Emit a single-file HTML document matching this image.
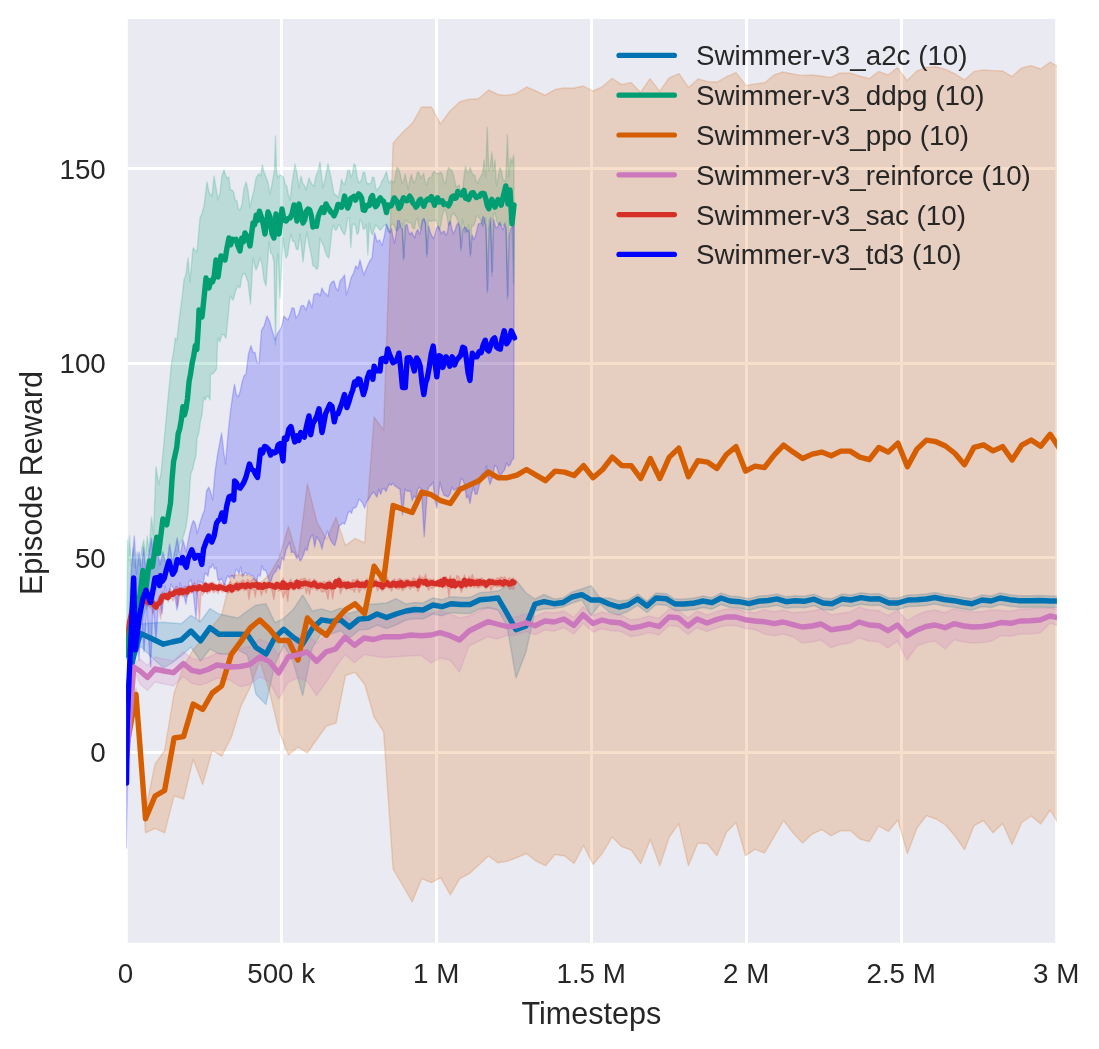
<!DOCTYPE html>
<html lang="en"><head><meta charset="utf-8"><title>Swimmer-v3 Episode Reward</title>
<style>html,body{margin:0;padding:0;background:#fff}body{width:1099px;height:1049px;overflow:hidden}</style></head>
<body>
<svg width="1099" height="1049" viewBox="0 0 1099 1049" style="display:block">
<defs><clipPath id="c"><rect x="126.1" y="17.3" width="930.8" height="927.2"/></clipPath></defs>
<rect x="0" y="0" width="1099" height="1049" fill="#ffffff"/>
<rect x="127.8" y="19.0" width="927.4" height="923.8" fill="#EAEAF2"/>
<g stroke="#ffffff" stroke-width="3">
<line x1="281.5" y1="19.0" x2="281.5" y2="942.8"/>
<line x1="436.5" y1="19.0" x2="436.5" y2="942.8"/>
<line x1="591.5" y1="19.0" x2="591.5" y2="942.8"/>
<line x1="746.5" y1="19.0" x2="746.5" y2="942.8"/>
<line x1="901.5" y1="19.0" x2="901.5" y2="942.8"/>
<line x1="127.8" y1="752.5" x2="1055.2" y2="752.5"/>
<line x1="127.8" y1="557.5" x2="1055.2" y2="557.5"/>
<line x1="127.8" y1="363.5" x2="1055.2" y2="363.5"/>
<line x1="127.8" y1="168.5" x2="1055.2" y2="168.5"/>
</g>
<g clip-path="url(#c)">
<path d="M126.5 697.0 L131.0 665.0 L134.0 652.0 L140.4 624.0 L151.5 623.0 L163.4 622.3 L172.0 623.0 L181.3 623.8 L190.9 615.4 L200.5 621.5 L210.0 608.5 L219.0 614.0 L228.5 616.0 L238.0 618.0 L247.3 611.0 L256.0 605.2 L266.0 603.8 L275.0 622.7 L283.8 618.3 L293.2 609.6 L302.7 595.0 L312.2 611.0 L321.7 608.9 L331.2 611.8 L340.6 608.1 L349.4 613.5 L358.9 610.3 L368.4 604.5 L377.1 603.8 L386.6 603.0 L396.0 598.7 L406.0 604.0 L415.0 602.5 L423.0 603.0 L433.0 598.0 L442.0 599.7 L451.0 596.7 L461.0 597.5 L470.0 597.5 L480.0 592.7 L489.0 592.0 L498.0 591.0 L507.0 586.0 L516.0 580.0 L526.0 593.0 L535.0 599.0 L544.0 594.5 L554.0 599.0 L563.0 598.0 L572.0 592.0 L581.8 589.0 L591.0 585.6 L600.0 598.0 L609.0 598.0 L619.0 601.0 L628.0 600.0 L637.6 594.0 L647.0 601.0 L656.0 593.0 L666.0 593.7 L675.0 599.0 L684.0 599.0 L693.0 598.3 L703.0 596.0 L712.0 597.7 L721.0 593.0 L730.0 596.0 L739.0 596.7 L749.0 598.7 L758.0 596.3 L768.0 595.5 L777.0 593.9 L786.0 596.7 L795.0 595.7 L804.0 596.3 L814.0 594.2 L823.0 598.0 L832.0 598.7 L842.0 594.0 L851.0 595.0 L861.0 592.7 L870.0 594.0 L879.0 593.7 L889.0 598.0 L898.0 598.0 L908.0 595.0 L917.0 594.7 L926.0 594.0 L935.0 592.5 L944.0 594.5 L954.0 595.7 L963.0 597.5 L972.0 598.7 L982.0 595.0 L991.0 596.0 L1000.0 593.0 L1010.0 594.7 L1019.0 595.7 L1030.0 595.7 L1040.0 595.5 L1050.0 596.0 L1059.0 596.0 L1059.0 607.5 L1050.0 607.5 L1040.0 607.0 L1030.0 607.2 L1019.0 607.2 L1010.0 606.2 L1000.0 604.5 L991.0 607.5 L982.0 606.5 L972.0 610.2 L963.0 609.0 L954.0 607.2 L944.0 606.0 L935.0 604.0 L926.0 605.5 L917.0 606.2 L908.0 606.5 L898.0 609.5 L889.0 609.5 L879.0 605.2 L870.0 605.5 L861.0 604.2 L851.0 606.5 L842.0 605.5 L832.0 610.2 L823.0 609.5 L814.0 605.7 L804.0 607.8 L795.0 607.2 L786.0 608.2 L777.0 605.4 L768.0 607.0 L758.0 607.8 L749.0 610.2 L739.0 608.2 L730.0 607.5 L721.0 604.5 L712.0 609.2 L703.0 607.5 L693.0 609.8 L684.0 610.5 L675.0 610.5 L666.0 605.2 L656.0 604.5 L647.0 612.5 L637.6 605.5 L628.0 611.5 L619.0 615.0 L609.0 612.0 L600.0 604.0 L591.0 615.7 L581.8 600.0 L572.0 603.0 L563.0 607.0 L554.0 608.5 L544.0 609.0 L535.0 611.0 L526.0 652.0 L516.0 678.0 L507.0 626.0 L498.0 610.0 L489.0 608.0 L480.0 608.7 L470.0 613.5 L461.0 613.5 L451.0 612.7 L442.0 615.7 L433.0 614.0 L423.0 619.0 L415.0 618.5 L406.0 620.0 L396.0 625.0 L386.6 628.6 L377.1 625.0 L368.4 629.3 L358.9 630.1 L349.4 638.1 L340.6 630.8 L331.2 634.0 L321.7 633.0 L312.2 648.0 L302.7 695.6 L293.2 662.0 L283.8 645.0 L275.0 664.0 L266.0 704.4 L256.0 694.2 L247.3 654.8 L238.0 650.0 L228.5 654.0 L219.0 654.0 L210.0 649.0 L200.5 661.0 L190.9 647.0 L181.3 655.9 L172.0 663.0 L163.4 668.0 L151.5 657.0 L140.4 646.0 L134.0 658.0 L131.0 671.0 L126.5 703.0Z" fill="#0173B2" fill-opacity="0.2" stroke="#0173B2" stroke-opacity="0.2" stroke-width="1.4" stroke-linejoin="round"/>
<path d="M126.5 640.0 L127.6 540.0 L128.5 560.0 L129.5 536.0 L131.0 566.0 L133.0 548.0 L135.0 568.0 L137.0 552.0 L139.5 566.0 L141.5 550.0 L143.8 540.0 L145.5 558.0 L147.2 536.0 L149.0 552.0 L151.5 517.0 L153.5 535.0 L156.0 466.6 L158.6 484.6 L161.0 474.0 L162.7 455.5 L164.3 439.2 L166.0 420.0 L167.8 400.9 L169.6 382.9 L171.4 363.7 L173.4 353.2 L175.3 338.0 L177.0 340.0 L178.7 323.3 L180.3 311.1 L182.0 298.0 L184.0 279.8 L186.0 274.3 L188.0 258.0 L190.0 282.0 L193.0 248.0 L195.0 250.1 L197.0 252.0 L200.0 218.0 L202.0 213.5 L204.0 206.0 L207.0 182.0 L208.7 191.3 L210.3 194.6 L212.0 196.0 L214.0 176.0 L216.0 187.8 L218.0 200.0 L220.0 192.4 L222.0 175.7 L224.0 170.0 L225.6 175.3 L227.2 178.4 L228.8 177.1 L230.4 190.0 L232.0 190.0 L233.6 191.9 L235.2 200.0 L236.8 200.7 L238.4 209.0 L240.0 210.0 L242.0 204.6 L244.0 188.8 L246.0 182.0 L248.0 190.4 L250.0 208.0 L252.0 197.6 L254.0 190.5 L256.0 178.0 L257.6 175.7 L259.2 173.8 L260.8 175.9 L262.4 164.9 L264.0 172.0 L266.0 177.3 L268.0 182.5 L270.0 194.0 L272.2 182.9 L274.5 170.0 L275.5 136.0 L276.5 172.0 L278.0 178.0 L280.0 174.8 L282.0 176.0 L283.6 177.5 L285.2 184.5 L286.8 186.0 L288.4 195.2 L290.0 200.0 L291.7 186.0 L293.3 174.9 L295.0 164.0 L297.0 173.8 L299.0 188.0 L301.0 176.0 L302.7 183.4 L304.3 185.0 L306.0 190.0 L309.0 178.0 L310.7 182.2 L312.3 184.8 L314.0 186.0 L316.0 175.6 L318.0 171.7 L320.0 162.0 L323.0 188.0 L324.7 181.0 L326.3 172.9 L328.0 164.0 L330.0 172.8 L332.0 182.7 L334.0 194.0 L336.0 195.0 L338.0 197.9 L340.0 190.0 L341.5 179.2 L343.1 183.4 L344.6 184.5 L346.2 178.4 L347.7 170.9 L349.3 169.9 L350.8 177.2 L352.4 174.0 L353.9 163.9 L355.5 165.6 L357.0 176.2 L358.6 182.6 L360.1 182.2 L361.7 179.0 L363.2 172.2 L364.8 172.6 L366.3 181.8 L367.9 184.0 L369.4 183.6 L371.0 183.3 L372.5 177.0 L374.1 177.6 L375.6 187.7 L377.2 190.7 L378.7 187.8 L380.3 186.0 L381.8 181.2 L383.4 179.0 L384.9 175.4 L386.5 171.8 L388.0 178.9 L389.6 183.9 L391.1 180.5 L392.7 181.8 L394.2 182.6 L395.8 172.8 L397.3 167.3 L398.9 169.4 L400.4 174.9 L402.0 183.3 L403.5 181.6 L405.1 174.1 L406.6 180.8 L408.2 189.7 L409.7 181.0 L411.3 174.5 L412.8 180.0 L414.4 183.1 L415.9 179.2 L417.5 172.2 L419.0 172.4 L420.6 178.7 L422.1 176.0 L423.7 173.5 L425.2 182.2 L426.8 184.6 L428.3 178.7 L429.9 177.4 L431.4 177.4 L433.0 172.6 L434.5 171.2 L436.1 173.4 L437.6 173.3 L439.2 173.5 L440.7 172.3 L442.3 174.2 L443.8 181.8 L445.4 184.1 L446.9 174.2 L448.5 167.5 L450.0 169.2 L451.6 170.0 L453.1 173.8 L454.7 180.8 L456.2 187.0 L457.8 186.3 L459.3 185.0 L460.9 193.9 L462.4 193.6 L464.0 176.5 L465.5 166.5 L467.1 172.4 L468.6 172.8 L470.2 167.4 L471.7 172.5 L473.3 175.4 L474.8 175.3 L476.4 181.6 L477.9 183.2 L479.5 178.6 L481.0 176.3 L482.6 173.4 L484.1 160.0 L485.7 177.4 L487.2 127.3 L488.8 170.7 L490.3 166.8 L491.9 152.0 L493.4 171.2 L495.0 160.0 L496.5 185.8 L498.1 178.3 L499.6 167.6 L501.2 169.7 L502.7 178.7 L504.3 180.6 L505.8 181.3 L507.4 134.6 L508.9 177.5 L510.5 158.0 L512.0 163.4 L513.6 155.3 L514.0 161.0 L514.0 240.0 L513.6 284.0 L512.0 225.4 L510.5 218.5 L508.9 217.9 L507.4 299.4 L505.8 221.7 L504.3 224.9 L502.7 225.6 L501.2 225.5 L499.6 224.9 L498.1 223.9 L496.5 220.5 L495.0 212.8 L493.4 215.0 L491.9 276.6 L490.3 223.7 L488.8 220.0 L487.2 293.0 L485.7 218.0 L484.1 224.0 L482.6 226.6 L481.0 221.2 L479.5 218.4 L477.9 215.8 L476.4 216.7 L474.8 223.3 L473.3 226.3 L471.7 225.5 L470.2 256.6 L468.6 224.5 L467.1 231.1 L465.5 233.2 L464.0 226.0 L462.4 218.8 L460.9 251.0 L459.3 226.2 L457.8 220.6 L456.2 216.7 L454.7 215.0 L453.1 213.0 L451.6 215.4 L450.0 223.5 L448.5 225.8 L446.9 216.0 L445.4 209.8 L443.8 210.9 L442.3 216.1 L440.7 225.2 L439.2 230.3 L437.6 224.9 L436.1 219.6 L434.5 221.0 L433.0 220.2 L431.4 221.4 L429.9 220.9 L428.3 219.8 L426.8 256.6 L425.2 225.4 L423.7 218.3 L422.1 222.7 L420.6 230.0 L419.0 226.3 L417.5 218.0 L415.9 220.7 L414.4 228.9 L412.8 228.1 L411.3 223.2 L409.7 222.5 L408.2 222.5 L406.6 221.3 L405.1 219.7 L403.5 260.0 L402.0 222.9 L400.4 226.9 L398.9 227.6 L397.3 230.9 L395.8 230.2 L394.2 225.2 L392.7 224.0 L391.1 225.9 L389.6 232.4 L388.0 231.7 L386.5 225.1 L384.9 225.0 L383.4 226.1 L381.8 228.5 L380.3 230.3 L378.7 228.6 L377.2 226.3 L375.6 225.0 L374.1 229.3 L372.5 234.9 L371.0 231.9 L369.4 222.9 L367.9 255.0 L366.3 224.0 L364.8 228.5 L363.2 229.2 L361.7 221.7 L360.1 219.7 L358.6 232.3 L357.0 234.4 L355.5 225.8 L353.9 223.9 L352.4 224.5 L350.8 247.5 L349.3 217.8 L347.7 217.6 L346.2 228.4 L344.6 234.9 L343.1 232.6 L341.5 230.3 L340.0 226.0 L338.4 224.5 L336.8 229.6 L335.2 230.1 L333.6 225.0 L332.0 230.0 L329.0 258.0 L327.2 256.4 L325.4 252.2 L323.6 245.8 L321.8 242.5 L320.0 238.0 L318.0 268.0 L316.3 269.2 L314.7 266.3 L313.0 266.0 L311.0 253.3 L309.0 245.2 L307.0 232.0 L305.0 244.2 L303.0 262.0 L300.0 234.0 L298.0 250.0 L296.2 248.9 L294.5 241.3 L292.8 241.4 L291.0 234.0 L289.3 242.7 L287.7 255.0 L286.0 258.0 L283.0 238.0 L280.0 298.0 L278.0 254.0 L277.0 262.0 L275.5 345.0 L274.0 262.0 L272.3 254.5 L270.7 252.9 L269.0 242.0 L266.0 286.0 L264.0 280.0 L262.0 263.8 L260.0 258.0 L258.0 265.4 L256.0 270.0 L253.0 258.0 L250.5 304.0 L248.0 282.0 L245.0 274.0 L243.3 273.3 L241.7 277.7 L240.0 288.0 L238.0 285.6 L236.0 290.0 L233.0 300.0 L230.0 296.0 L228.0 317.1 L226.0 338.0 L224.0 335.2 L222.0 334.0 L219.8 341.7 L217.7 338.0 L216.5 369.0 L214.5 371.7 L212.5 374.0 L210.5 374.0 L210.0 400.0 L208.4 396.3 L206.8 396.4 L205.2 400.0 L203.6 397.0 L202.0 415.0 L200.3 421.6 L198.7 433.6 L197.0 438.0 L196.0 456.0 L194.2 461.9 L192.5 469.7 L190.7 474.0 L188.0 513.0 L185.9 527.3 L183.8 535.2 L181.7 541.0 L179.9 543.7 L178.1 550.6 L176.3 557.8 L174.6 561.0 L172.8 568.4 L171.0 567.0 L169.4 567.6 L167.7 570.8 L166.1 571.1 L164.5 575.8 L162.8 581.3 L161.2 581.5 L159.5 580.0 L157.9 581.5 L156.3 589.7 L154.6 588.1 L153.0 590.0 L151.4 596.2 L149.8 597.0 L148.2 603.8 L146.6 608.8 L145.0 610.0 L143.3 617.0 L141.7 622.7 L140.0 626.4 L138.3 637.5 L136.7 630.8 L135.0 640.0 L133.3 643.4 L131.6 646.0 L129.9 655.2 L128.2 656.9 L126.5 660.0Z" fill="#029E73" fill-opacity="0.2" stroke="#029E73" stroke-opacity="0.2" stroke-width="1.4" stroke-linejoin="round"/>
<path d="M126.5 742.0 L136.0 688.0 L145.5 810.0 L155.1 763.9 L164.6 750.5 L174.1 693.0 L183.6 666.0 L193.2 649.8 L202.7 639.0 L212.2 626.8 L221.7 614.8 L231.3 575.5 L240.8 574.5 L250.3 575.7 L259.8 583.5 L269.3 574.8 L278.9 558.4 L288.4 526.5 L297.9 558.4 L307.4 483.7 L317.0 522.0 L326.5 539.3 L336.0 517.4 L345.5 545.6 L355.1 538.4 L364.6 543.0 L374.1 417.0 L383.6 430.0 L393.1 143.1 L402.0 133.0 L412.5 123.0 L421.5 107.0 L431.5 107.0 L440.5 124.0 L450.0 111.0 L460.0 101.7 L469.0 99.3 L478.5 98.7 L488.5 90.0 L498.0 94.5 L506.0 95.5 L516.0 93.7 L526.5 87.0 L535.0 90.5 L545.0 95.3 L555.0 89.5 L564.6 88.0 L574.0 88.0 L583.4 86.0 L593.0 91.0 L602.0 87.0 L612.0 78.4 L621.6 84.6 L631.0 82.4 L640.6 92.4 L650.0 78.6 L659.6 91.4 L669.0 78.0 L679.0 73.6 L688.6 87.6 L698.0 79.0 L708.0 81.6 L717.0 82.0 L726.0 77.0 L736.0 72.6 L746.0 85.4 L755.0 84.0 L765.0 82.6 L774.0 75.0 L783.0 72.0 L793.0 74.0 L802.0 75.4 L812.0 75.0 L821.0 76.0 L831.0 77.4 L840.0 73.0 L850.0 73.0 L859.5 76.0 L869.5 78.6 L878.7 71.4 L888.0 75.0 L897.5 67.6 L907.0 80.4 L917.0 71.0 L926.0 67.4 L935.5 66.6 L945.0 69.2 L954.5 73.5 L964.5 80.0 L974.0 71.4 L983.0 70.0 L993.0 70.6 L1002.7 71.0 L1012.0 76.6 L1021.5 68.0 L1031.0 65.6 L1040.7 69.0 L1050.2 62.0 L1059.7 67.7 L1059.8 826.0 L1050.2 810.0 L1040.7 824.0 L1031.2 816.0 L1021.7 822.5 L1012.1 844.5 L1002.6 823.5 L993.1 832.7 L983.6 820.7 L974.0 825.7 L964.5 849.7 L955.0 836.0 L945.5 825.0 L936.0 819.0 L926.4 815.7 L916.9 828.0 L907.4 853.5 L897.9 820.0 L888.3 831.5 L878.8 826.0 L869.3 841.7 L859.8 839.0 L850.2 830.5 L840.7 830.7 L831.2 835.7 L821.7 829.7 L812.2 834.0 L802.6 843.0 L793.1 833.0 L783.6 820.5 L774.1 836.7 L764.5 853.0 L755.0 849.3 L745.5 855.7 L736.0 822.5 L726.4 832.5 L716.9 855.7 L707.4 843.7 L697.9 843.0 L688.4 865.7 L678.8 823.7 L669.3 837.0 L659.8 865.7 L650.3 839.5 L640.7 863.7 L631.2 850.0 L621.7 846.7 L612.2 837.0 L602.6 853.0 L593.1 864.5 L583.6 845.5 L574.1 863.5 L564.6 856.0 L555.0 854.5 L545.5 865.7 L536.0 861.0 L526.5 853.7 L516.9 857.5 L507.4 861.3 L497.9 862.7 L488.4 856.0 L478.9 865.0 L469.3 873.7 L459.8 878.7 L450.3 895.0 L440.8 877.7 L431.2 882.7 L421.7 878.7 L412.2 901.8 L402.7 885.5 L393.1 869.0 L383.6 731.6 L374.1 717.0 L364.6 684.2 L355.1 672.3 L345.5 675.5 L336.0 723.0 L326.5 726.0 L317.0 739.0 L307.4 753.0 L297.9 747.0 L288.4 755.0 L278.9 731.0 L269.3 691.0 L259.8 660.6 L250.3 686.9 L240.8 706.4 L231.3 737.5 L221.7 756.2 L212.2 750.5 L202.7 784.6 L193.2 759.4 L183.6 799.0 L174.1 795.8 L164.6 832.8 L155.1 828.4 L145.5 832.8 L136.0 700.0 L126.5 752.0Z" fill="#D55E00" fill-opacity="0.2" stroke="#D55E00" stroke-opacity="0.2" stroke-width="1.4" stroke-linejoin="round"/>
<path d="M126.5 757.0 L130.5 709.0 L133.7 664.0 L140.0 659.0 L147.5 665.5 L155.0 657.0 L164.0 659.0 L173.4 660.7 L183.4 651.5 L191.8 658.4 L200.0 660.0 L208.0 657.5 L217.0 653.0 L230.0 655.0 L240.0 648.5 L249.5 646.7 L259.7 639.0 L269.2 643.4 L278.7 655.0 L288.1 639.0 L297.6 636.8 L307.1 633.9 L316.6 643.4 L326.0 633.9 L335.5 627.0 L345.0 615.3 L354.5 623.3 L364.0 616.0 L373.5 617.5 L383.7 614.6 L392.0 614.8 L401.0 614.7 L411.0 613.0 L421.0 613.7 L431.0 613.0 L440.0 610.7 L450.0 613.7 L459.5 618.0 L469.0 616.0 L478.0 611.5 L488.0 606.7 L497.0 609.0 L507.0 617.5 L516.0 617.0 L526.0 613.7 L535.0 616.7 L545.0 612.0 L554.0 613.0 L564.0 611.0 L573.8 617.5 L583.0 606.7 L593.0 615.5 L602.0 612.0 L610.0 614.0 L620.0 614.7 L631.0 620.0 L640.0 618.7 L649.0 616.0 L659.0 618.5 L669.0 609.0 L678.0 609.7 L688.0 618.0 L697.0 611.0 L707.0 615.0 L716.0 611.7 L726.0 609.0 L736.0 609.0 L745.0 611.7 L755.0 613.0 L764.0 609.7 L774.0 611.7 L783.0 610.0 L793.0 612.7 L802.0 612.0 L812.0 611.0 L821.0 609.0 L831.0 614.7 L840.0 613.5 L850.0 612.0 L859.0 607.0 L869.0 610.0 L879.0 610.7 L888.0 615.7 L897.5 610.0 L907.0 620.7 L917.0 615.0 L926.0 611.5 L935.0 610.0 L945.0 612.7 L954.0 608.7 L964.0 611.0 L973.0 612.0 L983.0 611.5 L992.0 610.0 L1001.0 610.5 L1011.0 611.3 L1020.0 609.0 L1030.0 608.7 L1040.0 608.0 L1050.0 608.0 L1059.0 610.0 L1059.0 626.0 L1050.0 623.0 L1040.0 633.0 L1030.0 633.7 L1020.0 634.0 L1011.0 636.3 L1001.0 635.5 L992.0 641.0 L983.0 642.5 L973.0 643.0 L964.0 642.0 L954.0 639.7 L945.0 649.0 L935.0 641.0 L926.0 642.5 L917.0 646.0 L907.0 660.0 L897.5 641.0 L888.0 648.0 L879.0 641.7 L869.0 641.0 L859.0 638.0 L850.0 643.0 L840.0 644.5 L831.0 647.5 L821.0 640.0 L812.0 642.0 L802.0 643.0 L793.0 636.7 L783.0 634.0 L774.0 635.7 L764.0 633.7 L755.0 629.5 L745.0 628.2 L736.0 625.5 L726.0 625.5 L716.0 628.2 L707.0 631.5 L697.0 627.5 L688.0 634.5 L678.0 626.2 L669.0 625.5 L659.0 635.0 L649.0 632.5 L640.0 635.2 L631.0 636.5 L620.0 631.2 L610.0 630.5 L602.0 628.5 L593.0 632.0 L583.0 623.2 L573.8 634.0 L564.0 627.5 L554.0 631.0 L545.0 630.0 L535.0 634.7 L526.0 631.7 L516.0 635.0 L507.0 635.5 L497.0 639.0 L488.0 636.7 L478.0 641.5 L469.0 646.0 L459.5 672.0 L450.0 660.0 L440.0 658.0 L431.0 663.0 L421.0 655.3 L411.0 655.8 L401.0 656.5 L392.0 657.0 L383.7 657.5 L373.5 656.0 L364.0 654.6 L354.5 662.6 L345.0 654.6 L335.5 667.7 L326.0 682.3 L316.6 695.4 L307.1 681.0 L297.6 678.0 L288.1 682.3 L278.7 699.0 L269.2 681.4 L259.7 677.0 L249.5 684.7 L240.0 686.5 L230.0 680.0 L217.0 678.0 L208.0 682.5 L200.0 685.0 L191.8 683.4 L183.4 676.5 L173.4 685.7 L164.0 684.0 L155.0 682.0 L147.5 690.5 L140.0 684.0 L133.7 670.0 L130.5 715.0 L126.5 763.0Z" fill="#CC78BC" fill-opacity="0.2" stroke="#CC78BC" stroke-opacity="0.2" stroke-width="1.4" stroke-linejoin="round"/>
<path d="M126.5 645.8 L128.1 630.6 L129.6 619.6 L131.2 611.2 L132.7 603.2 L134.3 601.3 L135.8 597.3 L137.4 597.0 L138.9 595.3 L140.5 595.2 L142.0 596.1 L143.6 595.5 L145.1 597.4 L146.7 597.7 L148.2 599.2 L149.8 597.6 L151.3 599.1 L152.9 600.7 L154.4 599.6 L156.0 603.9 L157.5 599.8 L159.1 598.0 L160.6 597.1 L162.2 591.7 L163.7 593.7 L165.3 592.4 L166.8 594.2 L168.4 593.4 L169.9 588.5 L171.5 591.0 L173.0 590.9 L174.6 589.2 L176.1 586.0 L177.7 587.2 L179.2 589.8 L180.8 587.8 L182.3 589.1 L183.9 586.8 L185.4 586.0 L187.0 587.9 L188.5 586.0 L190.1 584.7 L191.6 586.4 L193.2 583.7 L194.7 582.2 L196.3 585.7 L197.8 585.2 L199.4 582.9 L200.9 584.4 L202.5 584.9 L204.0 584.5 L205.6 582.0 L207.1 585.4 L208.7 583.0 L210.2 583.0 L211.8 582.0 L213.3 582.4 L214.9 583.6 L216.4 584.9 L218.0 584.3 L219.5 582.0 L221.1 582.9 L222.6 584.7 L224.2 583.6 L225.7 584.7 L227.3 586.1 L228.8 584.0 L230.4 581.1 L231.9 585.0 L233.5 583.4 L235.0 584.3 L236.6 581.3 L238.1 582.1 L239.7 582.7 L241.2 581.3 L242.8 579.7 L244.3 580.9 L245.9 584.0 L247.4 579.3 L249.0 580.8 L250.5 582.3 L252.1 579.1 L253.6 578.7 L255.2 582.1 L256.7 580.0 L258.3 583.3 L259.8 582.3 L261.4 583.5 L262.9 584.2 L264.5 581.9 L266.0 583.5 L267.6 581.6 L269.1 581.5 L270.7 582.5 L272.2 582.1 L273.8 583.8 L275.3 582.7 L276.9 581.5 L278.4 582.6 L280.0 581.9 L281.5 582.0 L283.1 577.7 L284.6 584.4 L286.2 581.3 L287.7 584.4 L289.3 581.2 L290.8 579.0 L292.4 582.7 L293.9 581.2 L295.5 580.4 L297.0 579.1 L298.6 580.9 L300.1 579.5 L301.7 579.2 L303.2 578.6 L304.8 578.1 L306.3 579.7 L307.9 581.2 L309.4 579.0 L311.0 581.3 L312.5 581.6 L314.1 579.0 L315.6 580.2 L317.2 581.6 L318.7 582.6 L320.3 581.9 L321.8 582.2 L323.4 581.7 L324.9 581.4 L326.5 584.5 L328.0 581.4 L329.6 580.2 L331.1 582.2 L332.7 583.3 L334.2 581.5 L335.8 578.9 L337.3 581.9 L338.9 576.6 L340.4 581.3 L342.0 580.9 L343.5 580.8 L345.1 581.4 L346.6 581.5 L348.2 581.5 L349.7 582.5 L351.3 582.6 L352.8 579.6 L354.4 580.4 L355.9 579.8 L357.5 578.7 L359.0 581.5 L360.6 581.6 L362.1 581.1 L363.7 581.0 L365.2 582.6 L366.8 578.6 L368.3 581.3 L369.9 581.0 L371.4 579.3 L373.0 581.7 L374.5 580.1 L376.1 578.9 L377.6 581.6 L379.2 580.9 L380.7 578.7 L382.3 583.8 L383.8 580.4 L385.4 580.7 L386.9 576.3 L388.5 580.7 L390.0 581.7 L391.6 581.8 L393.1 580.0 L394.7 578.8 L396.2 582.7 L397.8 579.5 L399.3 578.6 L400.9 579.1 L402.4 581.8 L404.0 579.7 L405.5 579.7 L407.1 579.3 L408.6 579.7 L410.2 580.4 L411.7 581.0 L413.3 577.7 L414.8 578.8 L416.4 579.7 L417.9 579.9 L419.5 575.2 L421.0 577.9 L422.6 577.3 L424.1 577.9 L425.7 574.2 L427.2 581.3 L428.8 579.3 L430.3 579.1 L431.9 580.0 L433.4 579.0 L435.0 580.7 L436.5 581.3 L438.1 579.5 L439.6 579.2 L441.2 578.1 L442.7 581.9 L444.3 576.9 L445.8 576.4 L447.4 578.2 L448.9 579.6 L450.5 575.3 L452.0 581.4 L453.6 578.0 L455.1 582.9 L456.7 575.8 L458.2 576.0 L459.8 578.4 L461.3 581.4 L462.9 581.5 L464.4 574.6 L466.0 580.0 L467.5 580.2 L469.1 576.0 L470.6 579.9 L472.2 574.1 L473.7 577.9 L475.3 580.0 L476.8 578.2 L478.4 578.9 L479.9 578.9 L481.5 577.7 L483.0 579.4 L484.6 579.6 L486.1 581.6 L487.7 579.5 L489.2 578.8 L490.8 579.2 L492.3 578.5 L493.9 580.1 L495.4 579.4 L497.0 577.9 L498.5 578.7 L500.1 577.5 L501.6 577.1 L503.2 578.6 L504.7 576.8 L506.3 579.3 L507.8 579.8 L509.4 577.5 L510.9 580.2 L512.5 578.0 L514.0 578.5 L514.0 589.4 L512.5 588.6 L510.9 588.6 L509.4 589.5 L507.8 585.9 L506.3 586.0 L504.7 584.8 L503.2 588.0 L501.6 586.4 L500.1 587.0 L498.5 585.7 L497.0 587.3 L495.4 585.7 L493.9 585.5 L492.3 588.1 L490.8 590.6 L489.2 585.0 L487.7 586.1 L486.1 588.8 L484.6 587.2 L483.0 585.1 L481.5 586.8 L479.9 586.4 L478.4 588.2 L476.8 587.3 L475.3 586.8 L473.7 587.7 L472.2 584.4 L470.6 587.6 L469.1 583.6 L467.5 587.2 L466.0 588.6 L464.4 585.8 L462.9 588.3 L461.3 592.4 L459.8 586.5 L458.2 586.9 L456.7 587.0 L455.1 589.1 L453.6 585.0 L452.0 588.4 L450.5 585.9 L448.9 597.1 L447.4 584.9 L445.8 587.7 L444.3 583.1 L442.7 588.1 L441.2 584.5 L439.6 587.3 L438.1 585.8 L436.5 586.5 L435.0 586.1 L433.4 587.8 L431.9 588.6 L430.3 586.3 L428.8 590.4 L427.2 587.1 L425.7 583.9 L424.1 585.5 L422.6 585.4 L421.0 586.1 L419.5 587.9 L417.9 591.9 L416.4 586.8 L414.8 587.5 L413.3 587.5 L411.7 586.9 L410.2 589.4 L408.6 587.5 L407.1 586.4 L405.5 588.3 L404.0 589.1 L402.4 590.9 L400.9 586.7 L399.3 589.3 L397.8 589.0 L396.2 588.7 L394.7 587.9 L393.1 587.1 L391.6 591.3 L390.0 588.1 L388.5 588.7 L386.9 586.5 L385.4 588.3 L383.8 589.2 L382.3 591.1 L380.7 587.7 L379.2 587.3 L377.6 591.0 L376.1 586.8 L374.5 586.0 L373.0 587.5 L371.4 586.5 L369.9 589.5 L368.3 588.4 L366.8 585.6 L365.2 589.8 L363.7 588.2 L362.1 588.6 L360.6 589.8 L359.0 592.7 L357.5 587.0 L355.9 588.2 L354.4 592.3 L352.8 589.3 L351.3 589.6 L349.7 588.8 L348.2 587.2 L346.6 590.2 L345.1 587.7 L343.5 588.4 L342.0 589.5 L340.4 594.0 L338.9 583.2 L337.3 587.8 L335.8 585.2 L334.2 589.7 L332.7 599.1 L331.1 589.5 L329.6 587.7 L328.0 599.4 L326.5 593.1 L324.9 590.3 L323.4 591.7 L321.8 592.2 L320.3 589.3 L318.7 588.8 L317.2 590.8 L315.6 589.6 L314.1 587.2 L312.5 589.2 L311.0 587.7 L309.4 594.8 L307.9 587.0 L306.3 593.6 L304.8 586.2 L303.2 588.6 L301.7 588.9 L300.1 589.0 L298.6 589.7 L297.0 585.0 L295.5 589.5 L293.9 590.0 L292.4 589.5 L290.8 588.8 L289.3 588.1 L287.7 601.6 L286.2 591.3 L284.6 593.9 L283.1 598.0 L281.5 591.4 L280.0 590.3 L278.4 590.9 L276.9 587.7 L275.3 589.9 L273.8 599.7 L272.2 590.9 L270.7 588.8 L269.1 587.3 L267.6 588.6 L266.0 593.3 L264.5 588.3 L262.9 590.4 L261.4 595.5 L259.8 589.5 L258.3 590.0 L256.7 588.6 L255.2 597.1 L253.6 588.0 L252.1 589.7 L250.5 590.1 L249.0 599.7 L247.4 588.3 L245.9 589.6 L244.3 590.7 L242.8 588.8 L241.2 589.4 L239.7 590.2 L238.1 591.4 L236.6 590.6 L235.0 591.4 L233.5 591.5 L231.9 593.2 L230.4 591.4 L228.8 592.9 L227.3 593.0 L225.7 592.1 L224.2 591.1 L222.6 592.1 L221.1 591.0 L219.5 589.5 L218.0 593.7 L216.4 590.1 L214.9 591.9 L213.3 592.8 L211.8 588.6 L210.2 592.5 L208.7 591.7 L207.1 594.0 L205.6 588.8 L204.0 592.5 L202.5 595.5 L200.9 591.3 L199.4 622.0 L197.8 595.9 L196.3 592.3 L194.7 590.5 L193.2 591.8 L191.6 593.3 L190.1 592.2 L188.5 594.1 L187.0 596.9 L185.4 595.2 L183.9 595.4 L182.3 596.8 L180.8 593.0 L179.2 598.4 L177.7 606.8 L176.1 594.7 L174.6 595.4 L173.0 600.9 L171.5 597.9 L169.9 597.6 L168.4 601.7 L166.8 599.7 L165.3 599.7 L163.7 599.6 L162.2 600.1 L160.6 619.0 L159.1 608.9 L157.5 607.5 L156.0 609.9 L154.4 608.9 L152.9 613.9 L151.3 606.6 L149.8 608.0 L148.2 605.3 L146.7 605.3 L145.1 606.4 L143.6 601.9 L142.0 604.2 L140.5 602.0 L138.9 600.9 L137.4 602.8 L135.8 606.7 L134.3 607.5 L132.7 613.4 L131.2 617.7 L129.6 626.7 L128.1 638.2 L126.5 653.9Z" fill="#D62F27" fill-opacity="0.2" stroke="#D62F27" stroke-opacity="0.2" stroke-width="1.4" stroke-linejoin="round"/>
<path d="M126.5 770.0 L128.4 640.0 L131.0 575.0 L134.3 536.0 L136.5 574.0 L139.0 552.0 L141.5 570.0 L143.5 547.0 L146.0 572.0 L148.5 556.0 L151.5 538.0 L154.0 566.0 L157.0 548.0 L160.0 565.0 L163.0 552.0 L166.5 566.0 L169.6 544.0 L172.5 562.0 L175.0 550.0 L177.2 538.0 L180.0 556.0 L183.0 540.0 L186.0 552.0 L189.5 534.0 L191.4 525.9 L193.3 520.6 L195.2 523.1 L197.2 533.5 L199.8 523.8 L202.3 515.5 L204.4 510.6 L206.6 491.1 L208.7 487.2 L210.6 492.1 L212.6 500.0 L215.1 471.2 L217.7 453.8 L219.6 443.7 L221.6 433.0 L223.6 451.1 L225.5 464.0 L228.1 433.3 L230.6 410.0 L232.6 395.9 L234.5 384.3 L236.4 394.6 L238.3 397.0 L240.2 391.0 L242.2 381.8 L244.1 375.8 L246.0 374.0 L248.5 353.8 L251.0 345.7 L253.0 352.5 L255.0 352.5 L257.0 362.4 L259.0 363.7 L261.5 330.3 L264.2 325.8 L267.0 316.0 L269.5 321.0 L272.0 330.0 L275.0 340.0 L277.5 333.4 L280.0 330.0 L282.0 325.3 L284.0 316.0 L286.0 318.4 L288.0 320.0 L290.0 314.8 L292.0 308.0 L294.0 308.1 L296.0 318.0 L298.5 314.7 L301.0 306.0 L303.5 305.4 L306.0 310.0 L309.0 300.0 L312.0 308.0 L314.0 294.2 L316.0 294.0 L318.0 293.1 L320.0 296.0 L322.0 288.0 L324.0 292.3 L326.0 294.0 L328.0 296.3 L330.0 284.9 L332.0 282.0 L334.0 281.0 L336.0 288.0 L338.0 290.9 L340.0 281.0 L342.3 278.5 L344.6 275.0 L346.4 295.0 L348.8 286.9 L351.3 277.1 L353.7 273.0 L355.8 265.7 L357.9 268.8 L360.0 260.0 L363.7 275.0 L365.8 269.9 L367.9 264.9 L369.9 260.7 L372.0 258.0 L374.6 233.0 L377.1 241.9 L379.5 239.7 L382.0 245.7 L384.2 236.7 L386.5 224.0 L390.0 233.0 L391.5 228.3 L393.1 237.6 L394.6 243.2 L396.2 232.9 L397.7 220.8 L399.3 220.4 L400.8 227.2 L402.4 229.5 L403.9 258.0 L405.5 226.0 L407.0 224.1 L408.6 232.0 L410.1 234.8 L411.7 232.0 L413.2 235.2 L414.8 237.8 L416.3 231.6 L417.9 229.5 L419.4 234.4 L421.0 229.6 L422.5 220.0 L424.1 218.7 L425.6 222.7 L427.2 254.0 L428.7 225.8 L430.3 232.3 L431.8 235.9 L433.4 238.6 L434.9 234.9 L436.5 228.3 L438.0 226.0 L439.6 228.8 L441.1 233.6 L442.7 231.9 L444.2 231.1 L445.8 235.4 L447.3 232.8 L448.9 223.5 L450.4 221.2 L452.0 229.6 L453.5 233.9 L455.1 230.4 L456.6 225.3 L458.2 223.0 L459.7 227.0 L461.3 248.0 L462.8 229.7 L464.4 227.3 L465.9 227.6 L467.5 231.3 L469.0 230.0 L470.6 254.0 L472.1 234.6 L473.7 239.6 L475.2 236.7 L476.8 230.5 L478.3 223.9 L479.9 223.5 L481.4 223.3 L483.0 216.4 L484.5 218.4 L486.1 228.1 L487.6 290.0 L489.2 228.2 L490.7 217.7 L492.3 272.0 L493.8 219.4 L495.4 226.7 L496.9 228.1 L498.5 224.7 L500.0 222.2 L501.6 227.4 L503.1 229.9 L504.7 223.8 L506.2 229.4 L507.8 296.0 L509.3 234.6 L510.9 228.2 L512.4 227.5 L514.0 224.3 L514.2 222.0 L513.7 458.5 L511.9 460.2 L510.2 464.8 L508.4 466.0 L506.6 463.0 L504.6 469.8 L502.7 472.4 L500.7 475.0 L498.7 473.7 L496.7 466.7 L494.7 465.6 L492.4 477.8 L490.0 484.5 L488.2 477.3 L486.5 465.6 L484.5 476.0 L482.6 473.5 L480.6 480.0 L478.8 487.3 L477.0 494.0 L475.2 494.2 L473.5 487.0 L471.8 493.0 L470.0 503.5 L468.2 495.7 L466.5 498.2 L464.8 485.4 L463.0 480.0 L461.0 478.2 L459.0 489.0 L457.2 488.1 L455.5 489.6 L453.8 490.2 L452.0 487.0 L450.0 494.0 L448.0 496.9 L446.0 496.0 L444.0 495.2 L442.0 490.3 L440.0 482.0 L436.8 508.0 L434.9 499.5 L433.0 482.0 L431.1 485.3 L429.2 486.3 L427.3 491.6 L424.2 536.6 L421.4 489.0 L419.5 487.5 L417.7 489.2 L415.9 498.0 L414.0 496.0 L412.2 500.8 L410.4 490.5 L408.6 491.3 L406.8 491.0 L405.0 489.0 L402.5 515.0 L400.0 489.0 L398.2 488.2 L396.5 486.7 L394.8 486.0 L393.0 483.0 L391.2 485.3 L389.5 483.8 L387.8 487.1 L386.0 491.6 L384.2 488.3 L382.4 489.2 L380.6 494.4 L378.8 489.0 L377.0 497.0 L375.2 494.3 L373.5 492.1 L371.7 494.0 L369.4 498.0 L367.0 501.0 L364.6 508.0 L362.8 503.4 L361.0 501.0 L359.0 498.9 L357.0 505.5 L355.0 508.0 L353.2 507.9 L351.5 513.4 L349.8 511.1 L348.0 513.0 L346.2 519.8 L344.5 524.3 L342.8 522.8 L341.0 524.7 L338.9 526.3 L336.9 537.6 L334.8 545.6 L333.0 543.9 L331.1 541.0 L329.3 537.5 L327.5 531.0 L325.7 536.5 L323.8 540.4 L322.0 549.0 L320.2 542.9 L318.4 539.3 L316.6 536.5 L314.7 547.2 L312.8 534.7 L310.9 536.9 L309.0 542.0 L307.2 550.6 L305.5 548.3 L303.8 553.8 L302.0 558.4 L300.2 560.9 L298.3 555.7 L296.5 558.4 L294.8 553.4 L293.1 551.9 L291.4 552.5 L289.7 541.9 L288.0 545.6 L285.9 550.1 L283.8 560.0 L281.9 557.5 L279.9 569.5 L278.0 565.7 L276.2 571.2 L274.4 572.5 L272.6 575.9 L270.8 581.5 L269.0 580.0 L267.2 574.3 L265.5 569.9 L263.8 570.4 L262.0 565.7 L260.2 576.1 L258.3 574.8 L256.5 582.0 L254.7 579.4 L252.9 575.8 L251.0 575.6 L249.2 573.6 L247.4 574.8 L245.7 572.3 L244.0 574.4 L242.4 576.5 L240.7 566.8 L239.0 574.0 L237.4 570.1 L235.8 569.5 L234.2 578.7 L232.6 576.1 L231.0 575.7 L229.4 577.9 L227.8 575.5 L226.1 579.8 L224.5 585.4 L222.9 581.7 L221.2 578.3 L219.6 580.7 L218.0 580.0 L216.3 567.7 L214.5 569.1 L212.8 563.9 L211.2 567.8 L209.6 566.7 L208.0 576.1 L206.4 573.9 L204.8 573.2 L203.2 584.5 L201.6 582.3 L200.0 582.0 L198.0 581.0 L196.0 618.0 L193.0 590.0 L191.0 579.8 L189.0 582.0 L186.0 604.0 L183.0 592.0 L180.0 583.0 L177.0 610.0 L174.0 590.0 L171.0 584.0 L168.0 600.0 L165.0 586.0 L162.0 614.0 L159.0 596.0 L156.0 640.0 L153.0 604.0 L150.7 667.0 L148.8 643.3 L147.0 606.0 L144.0 652.0 L141.0 608.0 L139.0 660.0 L136.0 612.0 L133.0 640.0 L130.0 690.0 L128.0 760.0 L126.5 848.0Z" fill="#0000FF" fill-opacity="0.2" stroke="#0000FF" stroke-opacity="0.2" stroke-width="1.4" stroke-linejoin="round"/>
<path d="M126.5 651.0 L128.1 634.9 L129.6 622.1 L131.2 614.8 L132.7 607.4 L134.3 604.3 L135.8 602.3 L137.4 600.2 L138.9 598.1 L140.5 598.4 L142.0 598.9 L143.6 599.3 L145.1 601.1 L146.7 601.7 L148.2 602.5 L149.8 601.9 L151.3 602.5 L152.9 603.3 L154.4 605.4 L156.0 607.0 L157.5 604.4 L159.1 603.2 L160.6 601.4 L162.2 596.2 L163.7 596.5 L165.3 595.6 L166.8 597.2 L168.4 597.2 L169.9 593.8 L171.5 594.1 L173.0 594.3 L174.6 592.5 L176.1 591.8 L177.7 591.3 L179.2 592.9 L180.8 590.3 L182.3 592.6 L183.9 590.9 L185.4 591.4 L187.0 592.0 L188.5 588.9 L190.1 588.4 L191.6 589.6 L193.2 587.6 L194.7 587.9 L196.3 588.5 L197.8 588.7 L199.4 586.8 L200.9 587.8 L202.5 588.9 L204.0 589.7 L205.6 585.4 L207.1 589.4 L208.7 588.7 L210.2 586.1 L211.8 585.6 L213.3 587.9 L214.9 586.9 L216.4 587.5 L218.0 588.4 L219.5 586.8 L221.1 587.4 L222.6 587.8 L224.2 588.3 L225.7 589.3 L227.3 589.2 L228.8 587.3 L230.4 586.7 L231.9 589.9 L233.5 587.7 L235.0 587.4 L236.6 585.5 L238.1 587.8 L239.7 585.8 L241.2 586.2 L242.8 585.0 L244.3 586.0 L245.9 586.7 L247.4 584.7 L249.0 585.4 L250.5 586.4 L252.1 584.9 L253.6 584.9 L255.2 585.4 L256.7 584.6 L258.3 587.1 L259.8 585.0 L261.4 587.2 L262.9 587.4 L264.5 584.7 L266.0 586.2 L267.6 585.5 L269.1 584.6 L270.7 585.6 L272.2 585.7 L273.8 586.8 L275.3 587.2 L276.9 584.5 L278.4 585.3 L280.0 586.5 L281.5 587.2 L283.1 582.7 L284.6 587.3 L286.2 585.4 L287.7 587.5 L289.3 585.0 L290.8 584.5 L292.4 585.5 L293.9 586.9 L295.5 585.4 L297.0 582.4 L298.6 586.2 L300.1 583.3 L301.7 584.1 L303.2 583.8 L304.8 582.9 L306.3 583.6 L307.9 583.9 L309.4 584.4 L311.0 585.1 L312.5 584.7 L314.1 583.2 L315.6 584.8 L317.2 586.3 L318.7 586.2 L320.3 585.2 L321.8 585.7 L323.4 586.1 L324.9 586.6 L326.5 587.0 L328.0 584.5 L329.6 584.5 L331.1 586.7 L332.7 586.8 L334.2 586.7 L335.8 581.8 L337.3 584.5 L338.9 580.6 L340.4 585.6 L342.0 584.7 L343.5 584.7 L345.1 584.5 L346.6 586.2 L348.2 584.2 L349.7 585.8 L351.3 585.2 L352.8 585.0 L354.4 585.1 L355.9 584.6 L357.5 583.1 L359.0 585.3 L360.6 585.3 L362.1 584.2 L363.7 585.3 L365.2 585.4 L366.8 582.7 L368.3 584.1 L369.9 583.7 L371.4 583.1 L373.0 584.6 L374.5 583.1 L376.1 583.6 L377.6 584.4 L379.2 584.6 L380.7 584.5 L382.3 586.9 L383.8 583.4 L385.4 584.3 L386.9 582.5 L388.5 584.6 L390.0 585.4 L391.6 585.4 L393.1 583.1 L394.7 583.5 L396.2 585.4 L397.8 583.7 L399.3 585.0 L400.9 582.6 L402.4 585.5 L404.0 585.0 L405.5 584.3 L407.1 582.7 L408.6 583.5 L410.2 583.9 L411.7 584.0 L413.3 583.5 L414.8 583.4 L416.4 583.9 L417.9 585.3 L419.5 581.1 L421.0 581.8 L422.6 581.6 L424.1 582.7 L425.7 581.3 L427.2 584.2 L428.8 583.6 L430.3 583.1 L431.9 582.6 L433.4 583.6 L435.0 583.6 L436.5 583.8 L438.1 582.5 L439.6 584.2 L441.2 581.5 L442.7 584.9 L444.3 579.5 L445.8 582.5 L447.4 581.8 L448.9 584.2 L450.5 581.4 L452.0 585.5 L453.6 581.3 L455.1 585.7 L456.7 583.7 L458.2 583.2 L459.8 583.7 L461.3 585.8 L462.9 584.2 L464.4 580.3 L466.0 584.5 L467.5 583.3 L469.1 581.0 L470.6 584.0 L472.2 581.5 L473.7 583.2 L475.3 583.2 L476.8 582.1 L478.4 583.7 L479.9 581.6 L481.5 583.1 L483.0 582.2 L484.6 582.6 L486.1 585.2 L487.7 582.9 L489.2 581.4 L490.8 582.6 L492.3 581.8 L493.9 582.8 L495.4 582.9 L497.0 582.8 L498.5 582.8 L500.1 582.0 L501.6 583.2 L503.2 584.0 L504.7 581.8 L506.3 582.5 L507.8 582.7 L509.4 584.1 L510.9 583.9 L512.5 581.6 L514.0 582.6" fill="none" stroke="#D62F27" stroke-width="5.4" stroke-linejoin="round" stroke-linecap="round"/>
<path d="M126.5 700.0 L131.0 668.0 L134.0 655.0 L140.4 633.4 L151.5 638.5 L163.4 644.2 L172.0 642.0 L181.3 640.0 L190.9 631.0 L200.5 640.9 L210.0 627.7 L219.0 634.2 L228.5 634.2 L238.0 634.2 L247.3 634.4 L256.0 647.5 L266.0 654.1 L275.0 637.3 L283.8 629.3 L293.2 637.3 L302.7 643.9 L312.2 628.6 L321.7 619.8 L331.2 621.3 L340.6 619.8 L349.4 627.1 L358.9 619.1 L368.4 618.3 L377.1 614.0 L386.6 617.6 L396.0 614.0 L406.0 611.0 L415.0 609.5 L423.0 610.0 L433.0 605.0 L442.0 606.7 L451.0 603.7 L461.0 604.5 L470.0 604.5 L480.0 599.7 L489.0 599.0 L498.0 598.0 L507.0 613.5 L516.0 629.7 L526.0 626.0 L535.0 604.0 L544.0 601.7 L554.0 603.7 L563.0 602.5 L572.0 597.0 L581.8 594.7 L591.0 600.0 L600.0 600.0 L609.0 604.0 L619.0 607.0 L628.0 605.0 L637.6 599.0 L647.0 606.0 L656.0 598.0 L666.0 598.7 L675.0 604.0 L684.0 604.0 L693.0 603.3 L703.0 601.0 L712.0 602.7 L721.0 598.0 L730.0 601.0 L739.0 601.7 L749.0 603.7 L758.0 601.3 L768.0 600.5 L777.0 598.9 L786.0 601.7 L795.0 600.7 L804.0 601.3 L814.0 599.2 L823.0 603.0 L832.0 603.7 L842.0 599.0 L851.0 600.0 L861.0 597.7 L870.0 599.0 L879.0 598.7 L889.0 603.0 L898.0 603.0 L908.0 600.0 L917.0 599.7 L926.0 599.0 L935.0 597.5 L944.0 599.5 L954.0 600.7 L963.0 602.5 L972.0 603.7 L982.0 600.0 L991.0 601.0 L1000.0 598.0 L1010.0 599.7 L1019.0 600.7 L1030.0 600.7 L1040.0 600.5 L1050.0 601.0 L1059.0 601.0" fill="none" stroke="#0173B2" stroke-width="5.4" stroke-linejoin="round" stroke-linecap="round"/>
<path d="M126.5 655.0 L130.0 630.0 L140.0 595.0 L142.9 570.5 L145.7 589.6 L149.5 561.0 L152.4 566.7 L156.7 537.2 L158.6 553.4 L162.9 519.0 L166.7 524.8 L170.5 503.0 L172.0 480.1 L173.6 461.5 L175.1 454.8 L176.7 447.6 L178.2 433.6 L179.8 428.5 L181.3 419.9 L182.9 406.7 L184.4 415.0 L186.0 408.9 L187.5 398.3 L189.1 381.3 L190.6 373.7 L192.2 362.9 L193.7 356.2 L195.3 345.6 L196.8 349.5 L198.4 325.3 L199.0 310.0 L202.0 317.0 L204.0 298.3 L206.0 278.0 L209.0 288.0 L210.8 280.4 L212.5 282.0 L214.2 276.0 L216.0 260.0 L218.0 277.0 L221.0 256.0 L223.0 258.5 L225.0 260.0 L227.0 247.8 L229.0 238.0 L230.7 244.8 L232.3 239.2 L234.0 240.0 L236.0 239.3 L238.0 246.1 L240.0 251.0 L241.7 238.1 L243.3 242.1 L245.0 233.0 L246.7 236.1 L248.3 239.4 L250.0 246.0 L253.0 223.0 L254.6 224.8 L256.2 215.2 L257.8 220.4 L259.4 211.2 L261.0 216.0 L263.0 223.0 L265.0 234.0 L268.0 212.0 L270.0 217.1 L272.0 233.7 L274.0 238.0 L276.0 214.0 L279.0 234.0 L282.0 209.0 L284.0 220.3 L286.0 221.0 L288.0 218.5 L290.0 218.0 L292.0 214.0 L294.0 205.0 L297.0 221.0 L299.0 204.0 L301.0 213.0 L303.0 223.0 L304.7 220.0 L306.3 211.4 L308.0 209.0 L309.7 209.9 L311.3 215.6 L313.0 227.0 L314.8 224.4 L316.5 226.2 L318.2 216.6 L320.0 212.0 L322.0 207.8 L324.0 212.4 L326.0 204.0 L327.6 207.1 L329.2 209.1 L330.8 212.0 L332.4 213.2 L334.0 216.0 L336.0 211.4 L338.0 204.4 L340.0 205.0 L341.5 207.2 L343.1 203.0 L344.6 196.1 L346.2 202.7 L347.7 208.1 L349.3 204.4 L350.8 198.2 L352.4 197.6 L353.9 196.4 L355.5 200.1 L357.0 197.0 L358.6 193.9 L360.1 195.2 L361.7 198.3 L363.2 209.8 L364.8 210.3 L366.3 205.4 L367.9 206.1 L369.4 205.4 L371.0 197.8 L372.5 195.5 L374.1 203.9 L375.6 206.7 L377.2 204.9 L378.7 199.7 L380.3 197.9 L381.8 200.4 L383.4 201.0 L384.9 205.7 L386.5 212.6 L388.0 205.0 L389.6 206.4 L391.1 205.7 L392.7 202.5 L394.2 197.9 L395.8 199.9 L397.3 201.9 L398.9 208.4 L400.4 206.7 L402.0 201.4 L403.5 197.7 L405.1 198.8 L406.6 200.8 L408.2 200.2 L409.7 196.1 L411.3 198.6 L412.8 202.8 L414.4 204.5 L415.9 207.1 L417.5 205.2 L419.0 200.8 L420.6 199.4 L422.1 202.6 L423.7 206.2 L425.2 202.3 L426.8 199.7 L428.3 198.8 L429.9 199.8 L431.4 196.6 L433.0 200.4 L434.5 205.3 L436.1 199.6 L437.6 197.8 L439.2 202.0 L440.7 201.4 L442.3 200.8 L443.8 204.6 L445.4 203.8 L446.9 204.2 L448.5 205.8 L450.0 202.9 L451.6 197.4 L453.1 196.2 L454.7 198.3 L456.2 197.9 L457.8 191.4 L459.3 193.7 L460.9 195.0 L462.4 193.3 L464.0 190.4 L465.5 198.3 L467.1 198.4 L468.6 199.5 L470.2 195.5 L471.7 193.0 L473.3 192.8 L474.8 195.5 L476.4 197.4 L477.9 196.4 L479.5 196.3 L481.0 193.8 L482.6 193.3 L484.1 193.6 L485.7 198.3 L487.2 205.3 L488.8 208.7 L490.3 202.9 L491.9 199.4 L493.4 203.7 L495.0 207.1 L496.5 203.1 L498.1 199.6 L499.6 202.3 L501.2 205.2 L502.7 198.9 L505.8 186.0 L508.0 204.0 L510.0 190.0 L512.0 223.8 L514.0 205.0" fill="none" stroke="#029E73" stroke-width="5.4" stroke-linejoin="round" stroke-linecap="round"/>
<path d="M126.5 748.0 L136.0 694.4 L145.5 818.8 L155.1 796.0 L164.6 790.5 L174.1 738.0 L183.6 736.6 L193.2 704.0 L202.7 709.5 L212.2 693.0 L221.7 685.8 L231.3 654.4 L240.8 641.6 L250.3 627.9 L259.8 620.0 L269.3 629.0 L278.9 640.5 L288.4 640.5 L297.9 660.0 L307.4 618.0 L317.0 628.6 L326.5 635.2 L336.0 620.2 L345.5 609.8 L355.1 603.8 L364.6 613.5 L374.1 566.2 L383.6 580.3 L393.1 505.5 L402.7 509.1 L412.2 512.5 L421.7 492.1 L431.2 494.7 L440.8 500.7 L450.3 503.5 L459.8 489.5 L469.3 485.1 L478.9 480.7 L488.4 472.1 L497.9 477.7 L507.4 477.7 L516.9 475.1 L526.5 469.5 L536.0 475.1 L545.5 480.7 L555.0 471.1 L564.6 472.1 L574.1 475.5 L583.6 465.7 L593.1 477.7 L602.6 469.5 L612.2 457.1 L621.7 465.5 L631.2 465.7 L640.7 478.5 L650.3 458.5 L659.8 478.5 L669.3 457.1 L678.8 448.1 L688.4 476.7 L697.9 460.7 L707.4 462.1 L716.9 468.5 L726.4 454.5 L736.0 446.7 L745.5 471.1 L755.0 466.1 L764.5 467.5 L774.1 455.1 L783.6 445.1 L793.1 452.1 L802.6 458.5 L812.2 454.1 L821.7 452.1 L831.2 455.7 L840.7 451.1 L850.2 451.1 L859.8 457.1 L869.3 459.7 L878.8 447.5 L888.3 452.1 L897.9 443.1 L907.4 466.7 L916.9 449.1 L926.4 440.1 L936.0 441.7 L945.5 446.0 L955.0 453.5 L964.5 464.8 L974.0 447.4 L983.6 444.9 L993.1 450.9 L1002.6 446.6 L1012.1 460.0 L1021.7 445.2 L1031.2 440.0 L1040.7 446.3 L1050.2 434.3 L1059.8 449.0" fill="none" stroke="#D55E00" stroke-width="5.4" stroke-linejoin="round" stroke-linecap="round"/>
<path d="M126.5 760.0 L130.5 712.0 L133.7 667.0 L140.0 671.0 L147.5 677.5 L155.0 669.0 L164.0 671.0 L173.4 672.7 L183.4 663.5 L191.8 670.4 L200.0 672.0 L208.0 669.5 L217.0 665.0 L230.0 667.0 L240.0 666.5 L249.5 664.7 L259.7 657.0 L269.2 661.4 L278.7 673.0 L288.1 657.0 L297.6 654.8 L307.1 651.9 L316.6 661.4 L326.0 651.9 L335.5 649.0 L345.0 637.3 L354.5 645.3 L364.0 638.0 L373.5 639.5 L383.7 636.6 L392.0 636.8 L401.0 636.7 L411.0 635.0 L421.0 635.7 L431.0 635.0 L440.0 632.7 L450.0 635.7 L459.5 640.0 L469.0 631.0 L478.0 626.5 L488.0 621.7 L497.0 624.0 L507.0 626.5 L516.0 626.0 L526.0 622.7 L535.0 625.7 L545.0 621.0 L554.0 622.0 L564.0 619.0 L573.8 625.5 L583.0 614.7 L593.0 623.5 L602.0 620.0 L610.0 622.0 L620.0 622.7 L631.0 628.0 L640.0 626.7 L649.0 624.0 L659.0 626.5 L669.0 617.0 L678.0 617.7 L688.0 626.0 L697.0 619.0 L707.0 623.0 L716.0 619.7 L726.0 617.0 L736.0 617.0 L745.0 619.7 L755.0 621.0 L764.0 621.7 L774.0 623.7 L783.0 622.0 L793.0 624.7 L802.0 627.0 L812.0 626.0 L821.0 624.0 L831.0 629.7 L840.0 628.5 L850.0 627.0 L859.0 622.0 L869.0 625.0 L879.0 625.7 L888.0 630.7 L897.5 625.0 L907.0 635.7 L917.0 630.0 L926.0 626.5 L935.0 625.0 L945.0 627.7 L954.0 623.7 L964.0 626.0 L973.0 627.0 L983.0 626.5 L992.0 625.0 L1001.0 622.5 L1011.0 623.3 L1020.0 621.0 L1030.0 620.7 L1040.0 620.0 L1050.0 616.0 L1059.0 618.0" fill="none" stroke="#CC78BC" stroke-width="5.4" stroke-linejoin="round" stroke-linecap="round"/>
<path d="M126.5 783.0 L127.3 722.0 L129.0 680.0 L133.7 578.0 L135.3 649.8 L139.0 619.0 L143.0 598.0 L146.0 590.2 L150.5 602.4 L152.8 591.4 L155.0 578.0 L157.3 577.8 L159.7 585.6 L160.5 575.7 L162.4 581.2 L164.3 578.0 L166.6 568.9 L168.9 561.2 L170.8 567.5 L172.7 574.2 L175.0 570.5 L177.3 559.7 L179.2 560.8 L181.0 562.7 L182.6 557.4 L184.5 564.1 L186.4 567.3 L188.2 558.3 L190.0 553.9 L191.8 549.8 L194.8 558.2 L197.2 555.4 L199.5 555.7 L201.8 564.4 L203.6 548.9 L206.1 541.8 L208.7 536.0 L211.8 542.0 L214.2 535.7 L216.5 523.2 L218.3 520.4 L220.1 519.0 L221.9 512.9 L224.4 521.5 L226.7 506.2 L229.0 497.0 L231.3 495.9 L233.7 500.0 L234.6 481.0 L236.4 482.7 L238.3 487.2 L240.1 488.1 L241.9 485.5 L243.9 482.3 L246.0 476.9 L247.8 470.4 L249.5 464.0 L251.5 469.2 L253.5 470.3 L255.5 474.1 L257.5 477.5 L260.6 450.0 L262.6 453.0 L264.6 446.4 L266.6 447.3 L268.6 449.3 L270.6 455.0 L272.5 451.9 L274.5 453.0 L276.3 452.0 L278.2 444.9 L280.0 443.6 L283.0 460.9 L284.4 438.0 L286.6 439.3 L288.9 428.9 L290.9 426.5 L292.8 434.2 L294.8 442.0 L296.8 435.7 L298.8 440.5 L300.8 432.5 L302.6 435.9 L304.3 437.2 L306.6 425.8 L309.0 415.9 L310.7 434.8 L312.9 423.6 L315.0 420.0 L317.0 415.5 L319.0 408.8 L322.0 432.5 L323.8 423.4 L325.6 413.6 L327.7 409.2 L329.9 404.4 L332.0 406.5 L334.3 421.8 L336.1 414.2 L338.0 413.8 L339.8 408.8 L342.1 402.6 L344.5 394.6 L346.9 407.6 L348.9 401.9 L350.8 395.3 L352.8 389.9 L354.6 381.9 L356.4 384.7 L358.1 378.9 L359.9 379.3 L361.6 387.1 L363.4 394.6 L365.4 388.5 L367.4 377.6 L369.4 372.2 L371.1 372.7 L372.9 379.3 L374.1 366.2 L376.1 370.8 L378.0 370.5 L380.0 371.0 L381.2 359.1 L383.5 358.4 L385.9 361.5 L387.7 348.9 L389.5 354.4 L391.2 358.4 L393.0 362.7 L395.0 361.4 L396.9 359.7 L398.9 353.2 L400.7 368.3 L402.5 387.5 L405.3 387.5 L407.2 358.0 L409.6 357.8 L412.0 361.5 L414.3 371.0 L416.7 358.0 L418.4 360.7 L420.2 366.0 L422.0 382.8 L423.8 394.6 L425.6 382.8 L427.3 378.0 L429.3 367.0 L431.2 354.0 L433.2 346.1 L435.0 362.3 L436.8 376.9 L439.2 355.6 L440.9 356.8 L442.7 367.4 L444.4 363.2 L446.2 356.8 L448.0 360.0 L449.8 366.2 L452.2 356.8 L454.5 365.0 L456.6 359.9 L458.6 357.7 L460.7 355.2 L462.8 347.3 L464.6 348.1 L466.4 359.1 L468.1 372.8 L469.9 380.4 L472.3 353.2 L474.6 356.7 L477.0 356.8 L479.1 351.8 L481.1 352.7 L483.2 344.9 L485.3 340.2 L487.1 349.4 L488.8 350.9 L490.8 344.8 L492.7 339.6 L494.7 337.9 L496.5 346.9 L498.3 348.5 L500.3 349.1 L502.2 338.6 L504.2 330.8 L506.6 343.8 L509.0 340.0 L511.3 330.8 L514.5 337.9" fill="none" stroke="#0000FF" stroke-width="5.4" stroke-linejoin="round" stroke-linecap="round"/>
</g>
<g stroke-width="5.2" stroke-linecap="round">
<line x1="619.0" y1="55.4" x2="674.4" y2="55.4" stroke="#0173B2"/>
<line x1="619.0" y1="95.2" x2="674.4" y2="95.2" stroke="#029E73"/>
<line x1="619.0" y1="135.0" x2="674.4" y2="135.0" stroke="#D55E00"/>
<line x1="619.0" y1="174.8" x2="674.4" y2="174.8" stroke="#CC78BC"/>
<line x1="619.0" y1="214.6" x2="674.4" y2="214.6" stroke="#D62F27"/>
<line x1="619.0" y1="254.4" x2="674.4" y2="254.4" stroke="#0000FF"/>
</g>
<g font-family="'Liberation Sans', sans-serif" fill="#262626">
<g font-size="27.78px">
<text x="696.0" y="65.0">Swimmer-v3_a2c (10)</text>
<text x="696.0" y="104.9">Swimmer-v3_ddpg (10)</text>
<text x="696.0" y="144.8">Swimmer-v3_ppo (10)</text>
<text x="696.0" y="184.7">Swimmer-v3_reinforce (10)</text>
<text x="696.0" y="224.5">Swimmer-v3_sac (10)</text>
<text x="696.0" y="264.2">Swimmer-v3_td3 (10)</text>
<text x="281.2" y="983" text-anchor="middle">500 k</text>
<text x="436.2" y="983" text-anchor="middle">1 M</text>
<text x="591.2" y="983" text-anchor="middle">1.5 M</text>
<text x="746.2" y="983" text-anchor="middle">2 M</text>
<text x="901.2" y="983" text-anchor="middle">2.5 M</text>
<text x="1056.2" y="983" text-anchor="middle">3 M</text>
<text x="125.5" y="983" text-anchor="middle">0</text>
<text x="105.8" y="762.2" text-anchor="end">0</text>
<text x="105.8" y="567.7" text-anchor="end">50</text>
<text x="105.8" y="373.2" text-anchor="end">100</text>
<text x="105.8" y="178.7" text-anchor="end">150</text>
</g>
<text x="591.3" y="1024.2" font-size="30.56px" text-anchor="middle">Timesteps</text>
<text transform="translate(42.3 483) rotate(-90)" font-size="30.56px" text-anchor="middle">Episode Reward</text>
</g>
</svg>
</body></html>
